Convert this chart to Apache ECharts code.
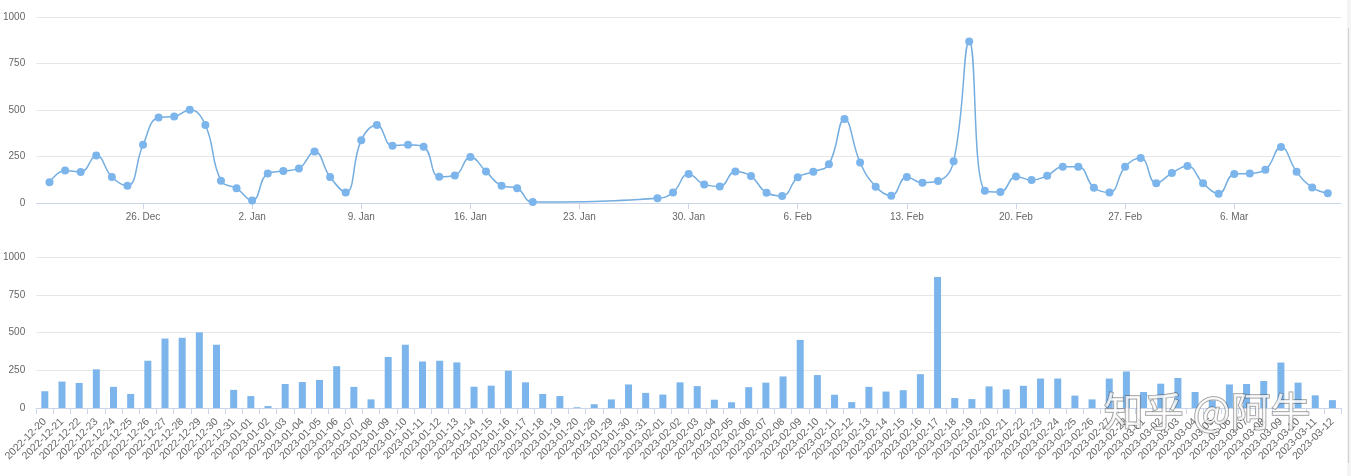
<!DOCTYPE html>
<html>
<head>
<meta charset="utf-8">
<script src="https://cdn.jsdelivr.net/npm/echarts@6/dist/echarts.min.js"></script>
<style>
html,body{margin:0;padding:0;background:#fff;}
#c{width:1351px;height:476px;}
</style>
</head>
<body>
<div id="c"></div>
<script>
// ---- data ----
const dates = [
 '2022-12-20','2022-12-21','2022-12-22','2022-12-23','2022-12-24','2022-12-25','2022-12-26','2022-12-27',
 '2022-12-28','2022-12-29','2022-12-30','2022-12-31','2023-01-01','2023-01-02','2023-01-03','2023-01-04',
 '2023-01-05','2023-01-06','2023-01-07','2023-01-08','2023-01-09','2023-01-10','2023-01-11','2023-01-12',
 '2023-01-13','2023-01-14','2023-01-15','2023-01-16','2023-01-17','2023-01-18','2023-01-19','2023-01-20',
 '2023-01-28','2023-01-29','2023-01-30','2023-01-31','2023-02-01','2023-02-02','2023-02-03','2023-02-04',
 '2023-02-05','2023-02-06','2023-02-07','2023-02-08','2023-02-09','2023-02-10','2023-02-11','2023-02-12',
 '2023-02-13','2023-02-14','2023-02-15','2023-02-16','2023-02-17','2023-02-18','2023-02-19','2023-02-20',
 '2023-02-21','2023-02-22','2023-02-23','2023-02-24','2023-02-25','2023-02-26','2023-02-27','2023-02-28',
 '2023-03-01','2023-03-02','2023-03-03','2023-03-04','2023-03-05','2023-03-06','2023-03-07','2023-03-08',
 '2023-03-09','2023-03-10','2023-03-11','2023-03-12'
];
const counts = [
 111,175,166,256,140,93,313,460,
 465,501,419,120,79,13,159,172,
 186,277,140,57,338,419,308,313,
 302,141,148,247,170,93,79,5,
 25,57,156,100,89,170,145,55,
 38,138,168,209,451,218,88,39,
 140,109,118,224,868,66,59,143,
 123,147,195,195,82,57,195,242,
 106,161,199,106,50,156,159,179,
 301,168,84,52
];
const tickDates = ['2022-12-26','2023-01-02','2023-01-09','2023-01-16','2023-01-23','2023-01-30',
                   '2023-02-06','2023-02-13','2023-02-20','2023-02-27','2023-03-06'];
const tickLabels = ['26. Dec','2. Jan','9. Jan','16. Jan','23. Jan','30. Jan',
                    '6. Feb','13. Feb','20. Feb','27. Feb','6. Mar'];
const yTicks = [0,250,500,750,1000];

// ---- helpers ----
const DAY = 86400000;
const base = Date.parse(tickDates[0] + 'T00:00:00Z');
const dayOf = s => (Date.parse(s + 'T00:00:00Z') - base) / DAY;
const firstDay = dayOf(dates[0]);
const lastDay = dayOf(dates[dates.length - 1]);
const tickPos = tickDates.map(dayOf);
const labelMap = {};
tickPos.forEach((p, i) => { labelMap[p] = tickLabels[i]; });
const lineData = dates.map((d, i) => [dayOf(d), counts[i]]);

const COLOR = '#7cb5ec';
const TXT = '#666666';
const FONT = 'Liberation Sans, Arial, sans-serif';

const chart = echarts.init(document.getElementById('c'), null, {renderer: 'canvas'});
chart.setOption({
  animation: false,
  backgroundColor: '#ffffff',
  grid: [
    {left: 36, right: 10, top: 17, bottom: 273},
    {left: 36, right: 10, top: 257, bottom: 68}
  ],
  xAxis: [
    {
      type: 'value', gridIndex: 0,
      min: firstDay - 0.85, max: lastDay + 0.85,
      splitLine: {show: false},
      axisLine: {show: true, onZero: false, lineStyle: {color: '#ccd6eb', width: 1}},
      axisTick: {show: true, customValues: tickPos, length: 6, lineStyle: {color: '#ccd6eb'}},
      axisLabel: {
        customValues: tickPos, color: TXT, fontSize: 10, fontFamily: FONT, margin: 9,
        formatter: v => labelMap[v] || ''
      }
    },
    {
      type: 'category', gridIndex: 1, data: dates,
      axisLine: {show: true, lineStyle: {color: '#ccd6eb', width: 1}},
      axisTick: {show: true, length: 6, lineStyle: {color: '#ccd6eb'}},
      axisLabel: {interval: 0, rotate: 45, color: TXT, fontSize: 10.5, fontFamily: FONT, margin: 12}
    }
  ],
  yAxis: [0, 1].map(g => ({
    type: 'value', gridIndex: g, min: 0, max: 1000, interval: 250,
    axisLine: {show: false}, axisTick: {show: false},
    splitLine: {lineStyle: {color: '#e6e6e6', width: 1}},
    axisLabel: {color: TXT, fontSize: 10, fontFamily: FONT, margin: 11,
      formatter: v => yTicks.indexOf(v) >= 0 ? String(v) : ''}
  })),
  series: [
    {
      type: 'line', xAxisIndex: 0, yAxisIndex: 0, data: lineData,
      smooth: 0.45, symbol: 'circle', symbolSize: 8,
      lineStyle: {color: '#74addf', width: 1.5},
      itemStyle: {color: COLOR}
    },
    {
      type: 'bar', xAxisIndex: 1, yAxisIndex: 1, data: counts,
      barWidth: 7, itemStyle: {color: COLOR}
    }
  ],
  graphic: [
    {type: 'rect', left: 1347, top: 0, shape: {width: 4, height: 476}, style: {fill: '#f4f4f4'}, z: 50},
    {type: 'line', shape: {x1: 1348.5, y1: 28, x2: 1348.5, y2: 463}, style: {stroke: '#d0d0d0', lineWidth: 1}, z: 51},
    {
      type: 'text', left: 1103, top: 390, z: 100,
      style: {
        text: '知乎 @阿牛',
        font: '40px "Noto Sans CJK SC", sans-serif',
        fill: 'rgba(255,255,255,0.78)',
        stroke: 'rgba(70,70,70,0.55)', lineWidth: 1.5
      }
    }
  ]
});
</script>
</body>
</html>
